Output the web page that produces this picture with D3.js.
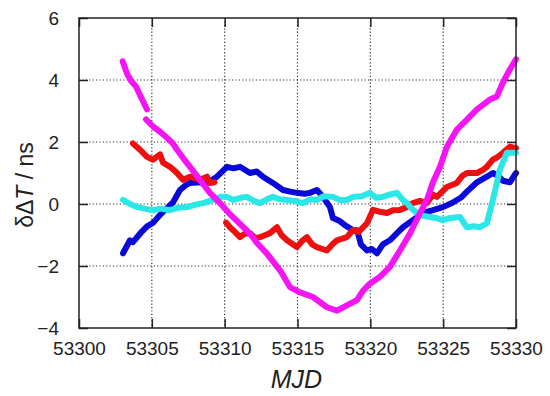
<!DOCTYPE html>
<html>
<head>
<meta charset="utf-8">
<script src="https://cdn.jsdelivr.net/npm/d3@7"></script>
<style>
  html, body { margin: 0; padding: 0; background: #fff; }
  svg text { font-family: "Liberation Sans", Arial, sans-serif; fill: #222; }
</style>
</head>
<body>
<div id="chart"></div>
<script>
// Timing offsets (ns) against MJD, four stations. null breaks a trace.
const xTicks = [53300, 53305, 53310, 53315, 53320, 53325, 53330];
const yTicks = [-4, -2, 0, 2, 4, 6];

const blueSeries = [
  [53303.02, -1.59], [53303.5, -1.17], [53303.7, -1.23], [53304.2, -0.95], [53304.67, -0.72],
  [53305.1, -0.6], [53305.56, -0.35], [53306.0, -0.15], [53306.45, 0.05], [53306.93, 0.45],
  [53307.3, 0.6], [53307.62, 0.68], [53308.3, 0.7], [53308.79, 0.68], [53309.47, 0.88],
  [53310.16, 1.2], [53310.6, 1.15], [53311.05, 1.2], [53311.74, 1.0], [53312.2, 1.05],
  [53312.63, 0.88], [53313.31, 0.68], [53314.0, 0.45], [53314.5, 0.4], [53314.96, 0.36],
  [53315.5, 0.33], [53315.85, 0.36], [53316.33, 0.45], [53316.75, 0.23], [53317.23, -0.1],
  [53317.43, -0.45], [53317.9, -0.55], [53318.3, -0.7], [53318.81, -0.84], [53319.1, -0.85],
  [53319.35, -1.3], [53319.77, -1.5], [53320.1, -1.45], [53320.45, -1.59], [53320.86, -1.3],
  [53321.34, -1.17], [53321.83, -0.94], [53322.24, -0.75], [53322.92, -0.52], [53323.61, -0.29],
  [53324.3, -0.2], [53324.98, -0.1], [53325.67, 0.05], [53326.2, 0.2], [53326.63, 0.4],
  [53327.32, 0.7], [53328.0, 0.88], [53328.41, 1.0], [53328.8, 0.9], [53329.1, 0.75],
  [53329.58, 0.7], [53330.0, 1.0]
];

const redSeries = [
  [53303.7, 1.95], [53304.19, 1.75], [53304.67, 1.52], [53305.08, 1.43], [53305.56, 1.6],
  [53305.77, 1.33], [53306.25, 1.2], [53306.73, 1.0], [53307.14, 0.78], [53307.62, 0.88],
  [53308.3, 0.78], [53308.79, 0.88], [53308.99, 0.68], [53309.3, 0.7],
  null,
  [53310.1, -0.6], [53310.36, -0.75], [53310.7, -0.9], [53311.05, -1.07], [53311.4, -0.95],
  [53311.74, -0.94], [53312.1, -1.1], [53312.42, -1.07], [53312.8, -1.0], [53313.11, -0.94],
  [53313.59, -0.75], [53313.9, -1.0], [53314.28, -1.17], [53314.96, -1.39], [53315.3, -1.2],
  [53315.65, -1.07], [53316.0, -1.3], [53316.33, -1.39], [53317.02, -1.5], [53317.4, -1.3],
  [53317.71, -1.17], [53318.39, -1.07], [53318.81, -0.84], [53319.2, -0.9], [53319.77, -0.62],
  [53320.18, -0.19], [53320.66, -0.25], [53321.14, -0.29], [53321.55, -0.2], [53322.03, -0.19],
  [53322.5, -0.1], [53322.92, 0.03], [53323.4, 0.1], [53323.88, 0.03], [53324.3, 0.3],
  [53324.57, 0.23], [53325.26, 0.55], [53325.94, 0.68], [53326.3, 0.9], [53326.63, 1.0],
  [53327.32, 1.0], [53327.73, 1.1], [53328.0, 1.2], [53328.41, 1.43], [53328.69, 1.5],
  [53329.1, 1.65], [53329.58, 1.85], [53330.0, 1.8]
];

const cyanSeries = [
  [53303.02, 0.13], [53303.5, 0.0], [53303.98, -0.1], [53304.5, -0.15], [53305.08, -0.2],
  [53305.6, -0.15], [53306.25, -0.2], [53306.8, -0.12], [53307.41, -0.1], [53308.0, -0.02],
  [53308.51, 0.03], [53309.2, 0.13], [53309.68, 0.23], [53310.16, 0.23], [53310.6, 0.13],
  [53311.1, 0.2], [53311.53, 0.23], [53312.0, 0.1], [53312.42, 0.03], [53312.9, 0.15],
  [53313.31, 0.23], [53313.8, 0.15], [53314.28, 0.13], [53314.8, 0.1], [53315.37, 0.03],
  [53315.9, 0.15], [53316.33, 0.13], [53316.8, 0.25], [53317.43, 0.23], [53317.91, 0.13],
  [53318.39, 0.13], [53318.81, 0.23], [53319.4, 0.25], [53319.97, 0.36], [53320.4, 0.2],
  [53320.86, 0.23], [53321.3, 0.3], [53321.83, 0.36], [53322.2, 0.15], [53322.51, 0.03],
  [53322.85, -0.15], [53323.2, -0.29], [53323.6, -0.38], [53324.09, -0.42], [53324.5, -0.45],
  [53324.98, -0.52], [53325.5, -0.45], [53326.15, -0.42], [53326.63, -0.75], [53327.1, -0.72],
  [53327.52, -0.75], [53328.0, -0.62], [53328.41, 0.13], [53328.89, 1.1], [53329.37, 1.65],
  [53330.0, 1.65]
];

const magentaSeries = [
  [53303.0, 4.6], [53303.3, 4.2], [53303.6, 3.95], [53303.9, 3.8], [53304.2, 3.5], [53304.67, 3.05],
  null,
  [53304.6, 2.73], [53305.08, 2.5], [53305.56, 2.33], [53306.0, 2.15], [53306.45, 1.95],
  [53306.73, 1.75], [53307.2, 1.45], [53307.62, 1.2], [53308.3, 0.78], [53308.99, 0.36],
  [53309.68, 0.03], [53310.3, -0.3], [53311.0, -0.62], [53311.74, -0.96], [53312.22, -1.26],
  [53312.9, -1.6], [53313.8, -2.14], [53314.48, -2.68], [53315.17, -2.85], [53316.06, -3.0],
  [53317.02, -3.33], [53317.71, -3.44], [53318.39, -3.27], [53319.08, -3.1], [53319.49, -2.8],
  [53319.97, -2.57], [53320.66, -2.35], [53321.34, -2.03], [53322.03, -1.5], [53322.72, -0.95],
  [53323.4, -0.3], [53323.88, 0.13], [53324.3, 0.7], [53324.78, 1.2], [53325.26, 1.85],
  [53325.94, 2.4], [53326.63, 2.72], [53327.32, 3.05], [53328.2, 3.37], [53328.69, 3.47],
  [53329.1, 3.92], [53329.58, 4.34], [53330.0, 4.67]
];

const width = 550, height = 396;
const m = { top: 18, right: 34, bottom: 68, left: 79 };
const iw = width - m.left - m.right;
const ih = height - m.top - m.bottom;

const svg = d3.select("#chart").append("svg")
  .attr("width", width).attr("height", height).attr("viewBox", `0 0 ${width} ${height}`);
const g = svg.append("g").attr("transform", `translate(${m.left},${m.top})`);

const x = d3.scaleLinear().domain([53300, 53330]).range([0, iw]);
const y = d3.scaleLinear().domain([-4, 6]).range([ih, 0]);

// dotted grid
g.append("g").selectAll("line").data(xTicks.slice(1, -1)).join("line")
  .attr("x1", (d) => x(d)).attr("x2", (d) => x(d)).attr("y1", 0).attr("y2", ih)
  .attr("stroke", "#333").attr("stroke-width", 1.2).attr("stroke-dasharray", "1.2,2.2");
g.append("g").selectAll("line").data(yTicks.slice(1, -1)).join("line")
  .attr("x1", 0).attr("x2", iw).attr("y1", (d) => y(d)).attr("y2", (d) => y(d))
  .attr("stroke", "#333").attr("stroke-width", 1.2).attr("stroke-dasharray", "1.2,2.2");

// traces
const line = d3.line().defined((d) => d !== null)
  .x((d) => x(d[0])).y((d) => y(d[1]));
const traces = [
  { data: blueSeries, color: "#0a0ad8" },
  { data: redSeries, color: "#ee1010" },
  { data: cyanSeries, color: "#2ae8e8" },
  { data: magentaSeries, color: "#f414f4" }
];
g.append("g").selectAll("path").data(traces).join("path")
  .attr("fill", "none").attr("stroke", (d) => d.color).attr("stroke-width", 6)
  .attr("stroke-linejoin", "round").attr("stroke-linecap", "round")
  .attr("d", (d) => line(d.data));

// axes with inward ticks on all sides
const tl = 9;
g.append("g").attr("transform", `translate(0,${ih})`)
  .call(d3.axisBottom(x).tickValues(xTicks).tickSizeInner(-tl).tickSizeOuter(0).tickPadding(14).tickFormat(d3.format("d")))
  .call((a) => a.select(".domain").remove())
  .call((a) => a.selectAll("line").attr("stroke", "#222").attr("stroke-width", 1.5))
  .call((a) => a.selectAll("text").attr("font-size", 19).attr("fill", "#222"));
g.append("g")
  .call(d3.axisTop(x).tickValues(xTicks).tickSizeInner(-tl).tickSizeOuter(0).tickFormat(""))
  .call((a) => a.select(".domain").remove())
  .call((a) => a.selectAll("line").attr("stroke", "#222").attr("stroke-width", 1.5));
g.append("g")
  .call(d3.axisLeft(y).tickValues(yTicks).tickSizeInner(-tl).tickSizeOuter(0).tickPadding(20).tickFormat(d3.format("d")))
  .call((a) => a.select(".domain").remove())
  .call((a) => a.selectAll("line").attr("stroke", "#222").attr("stroke-width", 1.5))
  .call((a) => a.selectAll("text").attr("font-size", 19).attr("fill", "#222"));
g.append("g").attr("transform", `translate(${iw},0)`)
  .call(d3.axisRight(y).tickValues(yTicks).tickSizeInner(-tl).tickSizeOuter(0).tickFormat(""))
  .call((a) => a.select(".domain").remove())
  .call((a) => a.selectAll("line").attr("stroke", "#222").attr("stroke-width", 1.5));

g.append("rect").attr("width", iw).attr("height", ih)
  .attr("fill", "none").attr("stroke", "#222").attr("stroke-width", 1.5);

// axis titles
svg.append("text").attr("x", m.left + iw / 2 - 1).attr("y", 388)
  .attr("text-anchor", "middle").attr("font-size", 25).attr("font-style", "italic")
  .text("MJD");

const yl = svg.append("text").attr("transform", `translate(33,185) rotate(-90)`)
  .attr("text-anchor", "middle").attr("font-size", 23);
yl.append("tspan").text("δΔ");
yl.append("tspan").attr("font-style", "italic").text("T");
yl.append("tspan").text(" / ns");
</script>
</body>
</html>
